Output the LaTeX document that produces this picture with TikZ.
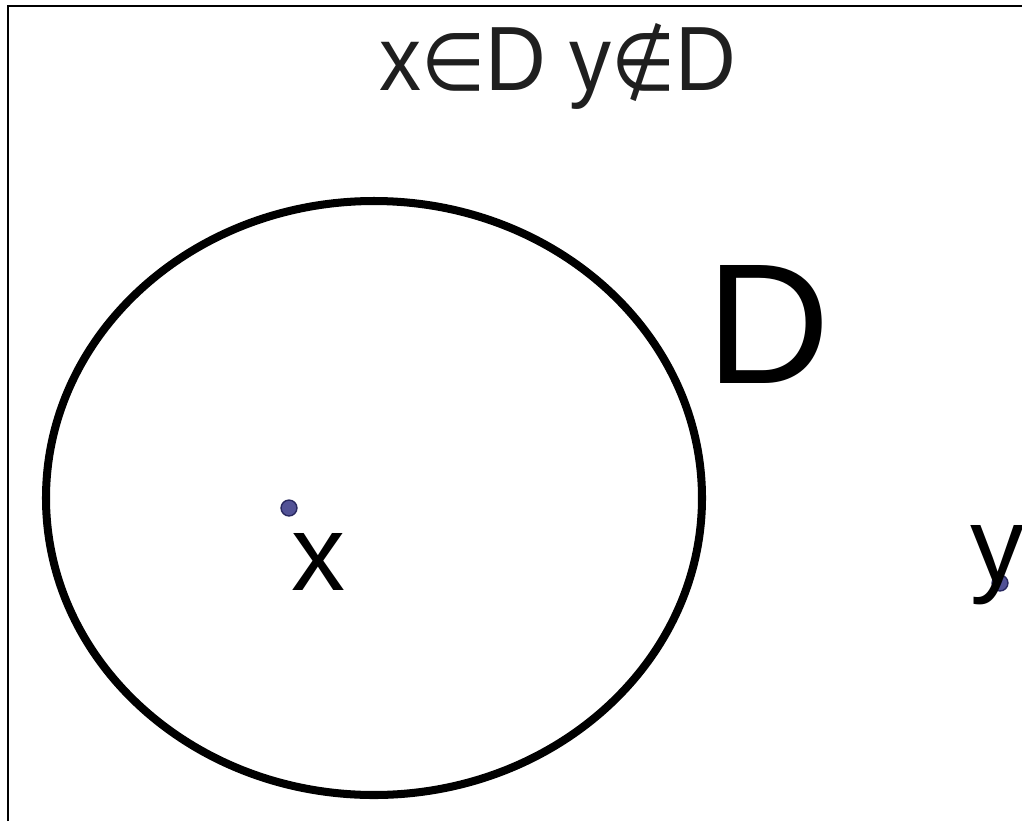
\documentclass[tikz,border=0pt]{standalone}
\usepackage{fontspec}
\setmainfont{Liberation Sans}
\newfontfamily\symfont{DejaVu Sans}
\definecolor{dotblue}{RGB}{82,82,150}
\definecolor{dotedge}{RGB}{40,40,95}

\begin{document}
\begin{tikzpicture}[x=0.0254cm, y=-0.0254cm,
  point/.style={circle, draw=dotedge, fill=dotblue, line width=1pt, inner sep=0pt, minimum size=11.5pt},
  label text/.style={inner sep=0pt, text=black}]
  \useasboundingbox (0,0) rectangle (1022,821);

  % cadre
  \draw[line width=1.5pt] (8,821) -- (8,6) -- (1022,6);

  % ensemble D
  \draw[line width=5.8pt] (374,498) ellipse [x radius=328, y radius=297];
  \node[label text, font=\fontsize{124}{124}\selectfont] (D) at (768,324) {D};

  % titre
  \node[label text, text=black!88, font=\fontsize{66}{66}\selectfont, anchor=base, xscale=0.92] (titre) at (558,90)
    {x{\symfont\fontsize{58}{58}\selectfont∈}D y{\symfont\fontsize{58}{58}\selectfont∉}D};

  % points
  \node[point] (x) at (289,508) {};
  \node[label text, font=\fontsize{78}{78}\selectfont, anchor=base] (lx) at (318,590) {x};
  \node[point] (y) at (1000,583) {};
  \node[label text, font=\fontsize{78}{78}\selectfont, anchor=base] (ly) at (997,582) {y};
\end{tikzpicture}
\end{document}
